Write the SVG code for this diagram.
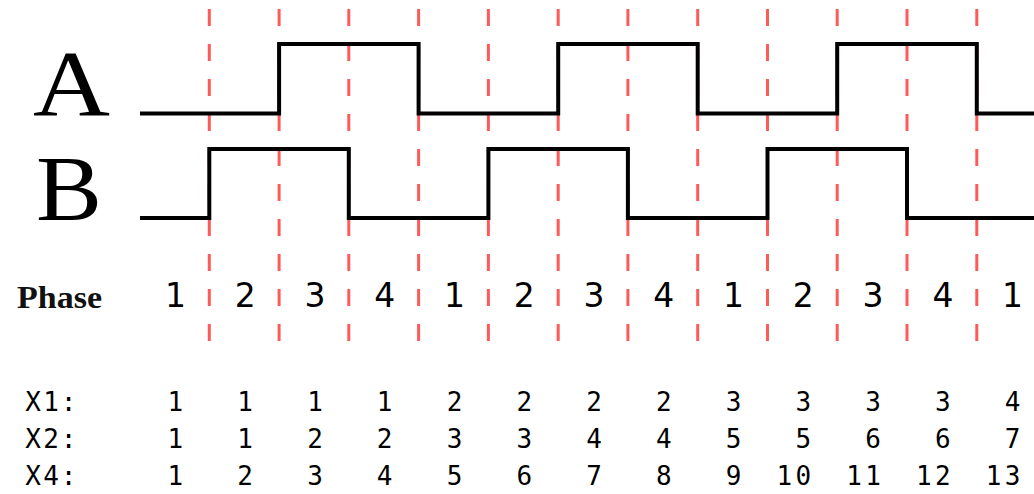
<svg xmlns="http://www.w3.org/2000/svg" width="1034" height="494" viewBox="0 0 1034 494">
<style>
.grid{stroke:#ff5a5a;stroke-width:3;stroke-dasharray:17 18;fill:none}
.wave{stroke:#000;stroke-width:4;fill:none;stroke-linejoin:miter;stroke-linecap:butt}
.sig{font-family:"Liberation Serif","Times New Roman",serif;font-size:94px;fill:#000}
.phl{font-family:"Liberation Serif","Times New Roman",serif;font-size:31px;font-weight:bold;fill:#111}
.ph{font-family:"DejaVu Sans",Verdana,sans-serif;font-size:33px;fill:#000;text-anchor:middle}
.mono{font-family:"DejaVu Sans Mono","Liberation Mono",monospace;font-size:26px;fill:#000;text-anchor:middle}
</style>
<rect width="1034" height="494" fill="#fff"/>
<g id="gridlines">
<line class="grid" x1="209.3" y1="9" x2="209.3" y2="342"/>
<line class="grid" x1="279.1" y1="9" x2="279.1" y2="342"/>
<line class="grid" x1="348.8" y1="9" x2="348.8" y2="342"/>
<line class="grid" x1="418.6" y1="9" x2="418.6" y2="342"/>
<line class="grid" x1="488.4" y1="9" x2="488.4" y2="342"/>
<line class="grid" x1="558.2" y1="9" x2="558.2" y2="342"/>
<line class="grid" x1="627.9" y1="9" x2="627.9" y2="342"/>
<line class="grid" x1="697.7" y1="9" x2="697.7" y2="342"/>
<line class="grid" x1="767.5" y1="9" x2="767.5" y2="342"/>
<line class="grid" x1="837.2" y1="9" x2="837.2" y2="342"/>
<line class="grid" x1="907" y1="9" x2="907" y2="342"/>
<line class="grid" x1="976.8" y1="9" x2="976.8" y2="342"/>
</g>
<g id="signalA">
<text class="sig" x="33" y="115" textLength="77" lengthAdjust="spacingAndGlyphs">A</text>
<path class="wave" d="M140,113.5 H279.1 V44 H418.6 V113.5 H558.2 V44 H697.7 V113.5 H837.2 V44 H976.8 V113.5 H1036"/>
</g>
<g id="signalB">
<text class="sig" x="36" y="220" textLength="66" lengthAdjust="spacingAndGlyphs">B</text>
<path class="wave" d="M140,218 H209.3 V149 H348.8 V218 H488.4 V149 H627.9 V218 H767.5 V149 H907 V218 H1036"/>
</g>
<g id="phase">
<text class="phl" x="17" y="308" textLength="85" lengthAdjust="spacingAndGlyphs">Phase</text>
<text class="ph" x="175.4" y="306.5">1</text>
<text class="ph" x="245.2" y="306.5">2</text>
<text class="ph" x="315" y="306.5">3</text>
<text class="ph" x="384.7" y="306.5">4</text>
<text class="ph" x="454.5" y="306.5">1</text>
<text class="ph" x="524.3" y="306.5">2</text>
<text class="ph" x="594" y="306.5">3</text>
<text class="ph" x="663.8" y="306.5">4</text>
<text class="ph" x="733.6" y="306.5">1</text>
<text class="ph" x="803.3" y="306.5">2</text>
<text class="ph" x="873.1" y="306.5">3</text>
<text class="ph" x="942.9" y="306.5">4</text>
<text class="ph" x="1012.6" y="306.5">1</text>
</g>
<g id="countX1">
<text class="mono" x="33 51 68.5" y="411">X1:</text>
<text class="mono" x="175.4" y="411">1</text>
<text class="mono" x="245.2" y="411">1</text>
<text class="mono" x="315" y="411">1</text>
<text class="mono" x="384.7" y="411">1</text>
<text class="mono" x="454.5" y="411">2</text>
<text class="mono" x="524.3" y="411">2</text>
<text class="mono" x="594" y="411">2</text>
<text class="mono" x="663.8" y="411">2</text>
<text class="mono" x="733.6" y="411">3</text>
<text class="mono" x="803.3" y="411">3</text>
<text class="mono" x="873.1" y="411">3</text>
<text class="mono" x="942.9" y="411">3</text>
<text class="mono" x="1012.6" y="411">4</text>
</g>
<g id="countX2">
<text class="mono" x="33 51 68.5" y="448">X2:</text>
<text class="mono" x="175.4" y="448">1</text>
<text class="mono" x="245.2" y="448">1</text>
<text class="mono" x="315" y="448">2</text>
<text class="mono" x="384.7" y="448">2</text>
<text class="mono" x="454.5" y="448">3</text>
<text class="mono" x="524.3" y="448">3</text>
<text class="mono" x="594" y="448">4</text>
<text class="mono" x="663.8" y="448">4</text>
<text class="mono" x="733.6" y="448">5</text>
<text class="mono" x="803.3" y="448">5</text>
<text class="mono" x="873.1" y="448">6</text>
<text class="mono" x="942.9" y="448">6</text>
<text class="mono" x="1012.6" y="448">7</text>
</g>
<g id="countX4">
<text class="mono" x="33 51 68.5" y="485">X4:</text>
<text class="mono" x="175.4" y="485">1</text>
<text class="mono" x="245.2" y="485">2</text>
<text class="mono" x="315" y="485">3</text>
<text class="mono" x="384.7" y="485">4</text>
<text class="mono" x="454.5" y="485">5</text>
<text class="mono" x="524.3" y="485">6</text>
<text class="mono" x="594" y="485">7</text>
<text class="mono" x="663.8" y="485">8</text>
<text class="mono" x="733.6" y="485">9</text>
<text class="mono" x="784.3 803.3" y="485">10</text>
<text class="mono" x="854.1 873.1" y="485">11</text>
<text class="mono" x="923.9 942.9" y="485">12</text>
<text class="mono" x="993.6 1012.6" y="485">13</text>
</g>
</svg>
